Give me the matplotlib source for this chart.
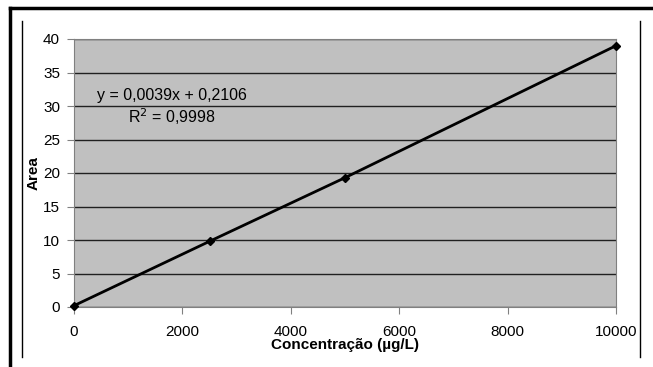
import matplotlib
matplotlib.use('Agg')
import matplotlib.pyplot as plt
from matplotlib.lines import Line2D

# calibration data
conc = [0, 2500, 5000, 10000]
area = [0.2, 9.8, 19.3, 39.0]
x_ticks = [0, 2000, 4000, 6000, 8000, 10000]
y_ticks = [0, 5, 10, 15, 20, 25, 30, 35, 40]

plt.rcParams['font.family'] = ['Liberation Sans', 'DejaVu Sans']

fig = plt.figure(figsize=(6.53, 3.67), dpi=100)
ax = fig.add_axes([74 / 653, 1 - 307 / 367, 542 / 653, 268 / 367])

ax.set_facecolor('#c0c0c0')
ax.plot(conc, area, color='black', lw=2, marker='D', ms=4.5, clip_on=False, zorder=3)
ax.set_xlim(0, 10000)
ax.set_ylim(0, 40)
ax.set_xticks(x_ticks)
ax.set_yticks(y_ticks)
ax.yaxis.grid(True, color='#202020', lw=1)
ax.set_axisbelow(True)
for s in ['top', 'right', 'left', 'bottom']:
    ax.spines[s].set_color('#808080')
ax.tick_params(axis='both', labelsize=11, color='#808080', length=5)
ax.tick_params(axis='x', pad=8)
ax.tick_params(axis='y', pad=5)
ax.set_xlabel('Concentração (µg/L)', fontsize=11, fontweight='bold', labelpad=-1)
ax.set_ylabel('Area', fontsize=11, fontweight='bold', labelpad=2)

ax.text(1800, 31.6, 'y = 0,0039x + 0,2106', fontsize=11.5, ha='center', va='center')
ax.text(1800, 28.4, 'R$^2$ = 0,9998', fontsize=11.5, ha='center', va='center')

# frame lines around the chart
fig.add_artist(Line2D([10 / 653, 10 / 653], [0, 1 - 8 / 367], color='black', lw=2.5))
fig.add_artist(Line2D([10 / 653, 1], [1 - 8 / 367, 1 - 8 / 367], color='black', lw=2.5))
fig.add_artist(Line2D([22 / 653, 22 / 653], [1 - 357 / 367, 1 - 21 / 367], color='black', lw=1))
fig.add_artist(Line2D([640 / 653, 640 / 653], [1 - 357 / 367, 1 - 21 / 367], color='black', lw=1))

fig.savefig('out.png', dpi=100)
